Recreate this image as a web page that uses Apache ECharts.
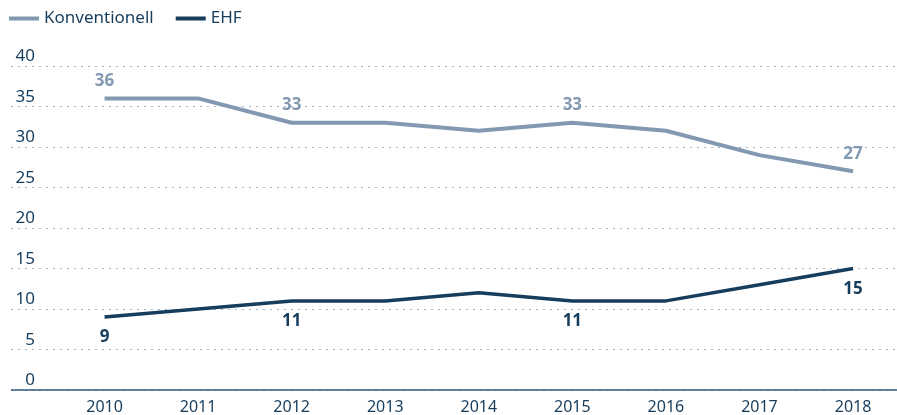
<!DOCTYPE html>
<html>
<head>
<meta charset="utf-8">
<script src="https://cdn.jsdelivr.net/npm/echarts@6/dist/echarts.min.js"></script>
<style>
  html, body { margin: 0; padding: 0; background: #fff; }
  #chart { width: 897px; height: 415px; }
</style>
</head>
<body>
<div id="chart"></div>
<script>
var myChart = echarts.init(document.getElementById('chart'));

// Jahre und Werte
let years = [2010, 2011, 2012, 2013, 2014, 2015, 2016, 2017, 2018];
let konventionell = [36, 36, 33, 33, 32, 33, 32, 29, 27];
let ehf = [9, 10, 11, 11, 12, 11, 11, 13, 15];
// nur diese Jahre bekommen eine Beschriftung
let labelYears = [2010, 2012, 2015, 2018];

let fontFam = '"Noto Sans", sans-serif';
let dark = '#173d5d';
let light = '#8399b1';

function pairs(vals) {
    return years.map(function (y, i) {
        return {
            value: [y, vals[i]],
            label: { show: labelYears.indexOf(y) >= 0 }
        };
    });
}

var option = {
    animation: false,
    legend: {
        left: 4,
        top: 5,
        itemWidth: 30,
        itemHeight: 4,
        itemGap: 22,
        icon: 'rect',
        textStyle: { color: dark, fontSize: 17, fontFamily: fontFam },
        data: ['Konventionell', 'EHF']
    },
    grid: { left: 11, right: 0, top: 66, bottom: 25, outerBoundsMode: 'none' },
    xAxis: {
        type: 'value',
        min: 2009,
        max: 2018.47,
        interval: 1,
        axisLine: { show: false },
        axisTick: { show: false },
        splitLine: { show: false },
        axisLabel: {
            color: dark,
            fontSize: 16,
            fontFamily: fontFam,
            margin: 9,
            formatter: function (v) { return (v >= 2010 && v % 1 === 0) ? String(v) : ''; }
        }
    },
    yAxis: {
        type: 'value',
        min: 0,
        max: 40,
        interval: 5,
        axisLine: { show: false },
        axisTick: { show: false },
        axisLabel: {
            inside: true,
            align: 'right',
            verticalAlign: 'bottom',
            margin: 24,
            padding: [0, 0, 1, 0],
            color: dark,
            fontSize: 17,
            fontFamily: fontFam
        },
        splitLine: {
            lineStyle: { color: '#a6b5c4', type: [2, 5], width: 1 }
        }
    },
    series: [
        {
            name: 'Konventionell',
            type: 'line',
            data: pairs(konventionell),
            showSymbol: true,
            symbol: 'circle',
            symbolSize: 0,
            color: light,
            lineStyle: { width: 4, color: light },
            label: {
                position: 'top',
                distance: 9,
                color: light,
                fontSize: 17,
                fontWeight: 'bold',
                fontFamily: fontFam
            }
        },
        {
            name: 'EHF',
            type: 'line',
            data: pairs(ehf),
            showSymbol: true,
            symbol: 'circle',
            symbolSize: 0,
            color: dark,
            lineStyle: { width: 3.5, color: dark },
            label: {
                position: 'bottom',
                distance: 12,
                color: dark,
                fontSize: 17,
                fontWeight: 'bold',
                fontFamily: fontFam
            },
            markLine: {
                silent: true,
                symbol: 'none',
                label: { show: false },
                lineStyle: { color: '#2f5a80', type: 'solid', width: 1.5 },
                data: [{ yAxis: 0 }]
            }
        }
    ]
};
myChart.setOption(option);
window.onresize = function () { myChart.resize(); };
</script>
</body>
</html>
